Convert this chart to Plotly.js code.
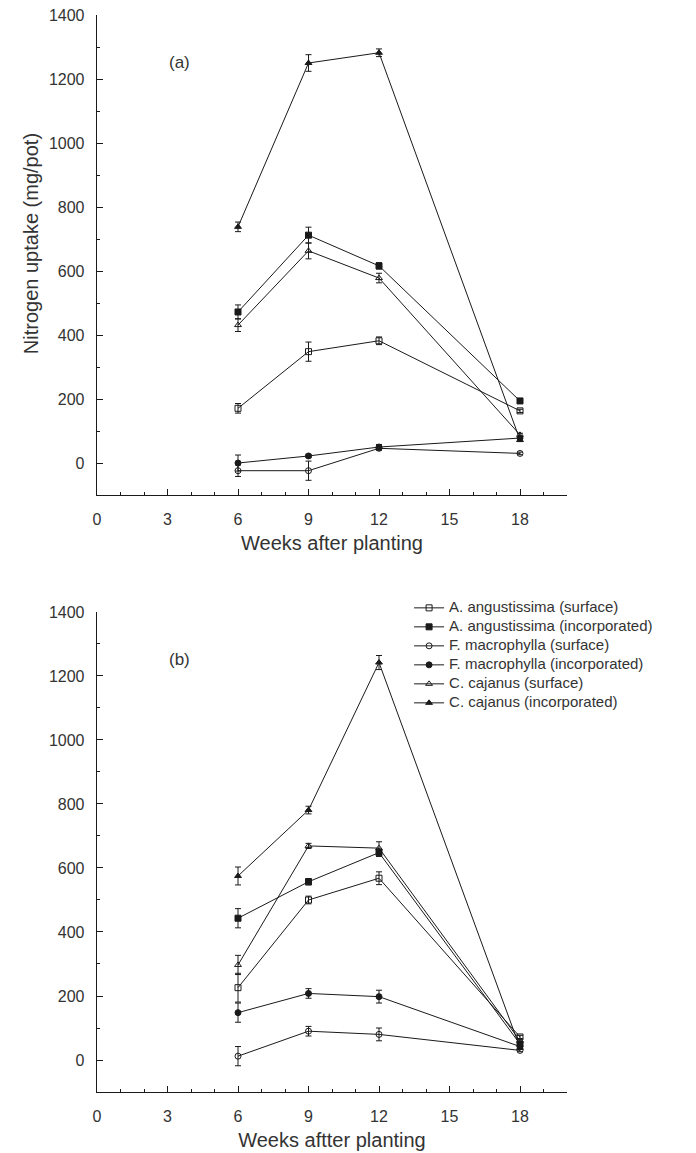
<!DOCTYPE html>
<html>
<head>
<meta charset="utf-8">
<script src="https://cdn.plot.ly/plotly-3.0.1.min.js"></script>
<style>
  html, body { margin: 0; padding: 0; background: #fff; }
  #chart { width: 696px; height: 1153px; }
</style>
</head>
<body>
<div id="chart"></div>
<script>
// ---- data ----
const weeks = [6, 9, 12, 18];
const seriesNames = [
  "A. angustissima (surface)",
  "A. angustissima (incorporated)",
  "F. macrophylla (surface)",
  "F. macrophylla (incorporated)",
  "C. cajanus (surface)",
  "C. cajanus (incorporated)"
];
const seriesSymbols = ["square-open", "square", "circle-open", "circle", "triangle-up-open", "triangle-up"];

// Panel (a)
const aAngSurfA = [171, 348, 382, 163];
const aAngSurfAErr = [15, 30, 12, 5];
const aAngIncA = [472, 712, 616, 194];
const aAngIncAErr = [22, 25, 10, 5];
const fMacSurfA = [-24, -24, 46, 30];
const fMacSurfAErr = [18, 30, 6, 4];
const fMacIncA = [0, 22, 50, 78];
const fMacIncAErr = [25, 5, 8, 4];
const cCajSurfA = [431, 663, 578, 88];
const cCajSurfAErr = [20, 25, 15, 5];
const cCajIncA = [738, 1250, 1282, 72];
const cCajIncAErr = [15, 26, 12, 5];

// Panel (b)
const aAngSurfB = [226, 500, 568, 72];
const aAngSurfBErr = [45, 12, 20, 5];
const aAngIncB = [443, 557, 648, 50];
const aAngIncBErr = [30, 10, 12, 5];
const fMacSurfB = [12, 90, 80, 30];
const fMacSurfBErr = [30, 15, 20, 4];
const fMacIncB = [148, 208, 198, 42];
const fMacIncBErr = [30, 15, 20, 4];
const cCajSurfB = [297, 669, 662, 60];
const cCajSurfBErr = [30, 8, 20, 5];
const cCajIncB = [575, 781, 1242, 38];
const cCajIncBErr = [28, 12, 22, 5];

const xTickVals = [0, 3, 6, 9, 12, 15, 18];
const yTickVals = [0, 200, 400, 600, 800, 1000, 1200, 1400];
const panelLabels = ["(a)", "(b)"];
const xTitles = ["Weeks after planting", "Weeks aftter planting"];
const yTitle = "Nitrogen uptake (mg/pot)";

const panelA = [[aAngSurfA, aAngSurfAErr], [aAngIncA, aAngIncAErr], [fMacSurfA, fMacSurfAErr],
                [fMacIncA, fMacIncAErr], [cCajSurfA, cCajSurfAErr], [cCajIncA, cCajIncAErr]];
const panelB = [[aAngSurfB, aAngSurfBErr], [aAngIncB, aAngIncBErr], [fMacSurfB, fMacSurfBErr],
                [fMacIncB, fMacIncBErr], [cCajSurfB, cCajSurfBErr], [cCajIncB, cCajIncBErr]];

const ink = "#1a1a1a";
const txt = "#333333";
const fam = "'Liberation Sans', Arial, Helvetica, sans-serif";

function makeTraces(panel, xa, ya, showLegend) {
  return panel.map((s, i) => ({
    type: "scatter",
    mode: "lines+markers",
    x: weeks,
    y: s[0],
    xaxis: xa,
    yaxis: ya,
    name: '<span style="font-size:15px">' + seriesNames[i] + '</span>',
    showlegend: showLegend,
    line: { color: ink, width: 1 },
    marker: { symbol: seriesSymbols[i], size: 6, color: ink, line: { color: ink, width: 1 } },
    error_y: { type: "data", array: s[1], visible: true, color: ink, thickness: 1, width: 3 }
  }));
}

const traces = [].concat(makeTraces(panelA, "x", "y", false), makeTraces(panelB, "x2", "y2", true));

function xAxis(anchor, title) {
  return {
    anchor: anchor,
    domain: [0, 1],
    range: [0, 20],
    tickmode: "array",
    tickvals: xTickVals,
    ticktext: xTickVals.map(String),
    ticks: "inside",
    ticklen: 6,
    tickwidth: 1,
    tickcolor: ink,
    minor: { dtick: 1, tick0: 0, ticks: "inside", ticklen: 3, tickwidth: 1, tickcolor: ink },
    showline: true,
    linecolor: ink,
    linewidth: 1.3,
    showgrid: false,
    zeroline: false,
    ticklabelstandoff: 9,
    tickfont: { family: fam, size: 16, color: txt },
    title: { text: title, font: { family: fam, size: 20, color: txt }, standoff: 9 }
  };
}
function yAxis(anchor, domain) {
  return {
    anchor: anchor,
    domain: domain,
    range: [-100, 1400],
    tickmode: "array",
    tickvals: yTickVals,
    ticktext: yTickVals.map(String),
    ticks: "inside",
    ticklen: 6,
    tickwidth: 1,
    tickcolor: ink,
    minor: { dtick: 100, tick0: 0, ticks: "inside", ticklen: 3, tickwidth: 1, tickcolor: ink },
    showline: true,
    linecolor: ink,
    linewidth: 1.3,
    showgrid: false,
    zeroline: false,
    ticklabelstandoff: 8,
    tickfont: { family: fam, size: 16, color: txt }
  };
}

const layout = {
  width: 696,
  height: 1153,
  margin: { l: 97, r: 129, t: 15, b: 61 },
  paper_bgcolor: "#ffffff",
  plot_bgcolor: "#ffffff",
  showlegend: true,
  xaxis: xAxis("y", xTitles[0]),
  yaxis: yAxis("x", [0.5543, 1]),
  xaxis2: xAxis("y2", xTitles[1]),
  yaxis2: yAxis("x2", [0, 0.4457]),
  legend: {
    x: 0.664, y: 0.463, xanchor: "left", yanchor: "top",
    font: { family: fam, size: 11, color: txt },
    bgcolor: "rgba(0,0,0,0)",
    tracegroupgap: 0,
    itemwidth: 30
  },
  annotations: [
    { text: panelLabels[0], x: 3.5, y: 1253, xref: "x", yref: "y", showarrow: false,
      font: { family: fam, size: 17, color: txt } },
    { text: panelLabels[1], x: 3.5, y: 1253, xref: "x2", yref: "y2", showarrow: false,
      font: { family: fam, size: 17, color: txt } },
    { text: yTitle, x: -0.168, y: 684, xref: "paper", yref: "y", showarrow: false, textangle: -90,
      font: { family: fam, size: 20, color: txt } }
  ]
};

Plotly.newPlot("chart", traces, layout, { displayModeBar: false, staticPlot: true });
</script>
</body>
</html>
